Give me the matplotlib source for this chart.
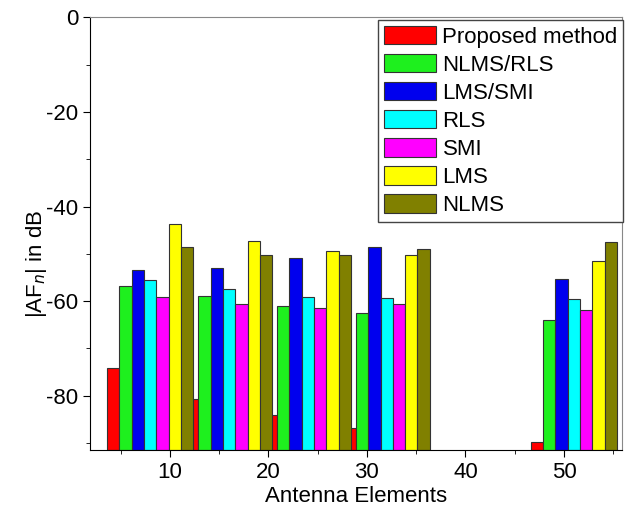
import numpy as np
import matplotlib
matplotlib.use("Agg")
import matplotlib.pyplot as plt
from matplotlib.ticker import MultipleLocator

plt.rcParams['font.family'] = ['Liberation Sans', 'DejaVu Sans']
plt.rcParams['axes.unicode_minus'] = False

# data
elements = [8, 16, 24, 32, 51]
methods = ['Proposed method', 'NLMS/RLS', 'LMS/SMI', 'RLS', 'SMI', 'LMS', 'NLMS']
proposed = [-74.2, -80.8, -84.0, -86.8, -89.8]
nlms_rls = [-56.9, -59.0, -61.0, -62.5, -64.0]
lms_smi = [-53.4, -53.0, -50.9, -48.6, -55.3]
rls = [-55.5, -57.5, -59.2, -59.4, -59.6]
smi = [-59.2, -60.6, -61.5, -60.6, -61.8]
lms = [-43.7, -47.2, -49.5, -50.2, -51.6]
nlms = [-48.5, -50.2, -50.2, -49.0, -47.6]
colors = ['#ff0000', '#1ef01e', '#0000ee', '#00ffff', '#ff00ff', '#ffff00', '#808000']

series = [proposed, nlms_rls, lms_smi, rls, smi, lms, nlms]
ybase = -91.5
width = 1.25

fig = plt.figure(figsize=(6.25, 5.11), dpi=100)
ax = fig.add_axes([0.144, 0.1194, 0.8507, 0.8464])

x = np.array(elements, dtype=float)
for i, (vals, c, lab) in enumerate(zip(series, colors, methods)):
    pos = x + (i - 3) * width
    h = np.array(vals) - ybase
    ax.bar(pos, h, width, bottom=ybase, color=c, edgecolor='#333333',
           linewidth=0.8, label=lab)

ax.set_xlim(1.88, 55.86)
ax.set_ylim(ybase, 0)
ax.xaxis.set_major_locator(MultipleLocator(10))
ax.xaxis.set_minor_locator(MultipleLocator(5))
ax.yaxis.set_major_locator(MultipleLocator(20))
ax.yaxis.set_minor_locator(MultipleLocator(10))
ax.tick_params(which='both', direction='out', top=False, right=False, labelsize=16)
ax.tick_params(which='major', length=5)
ax.tick_params(which='minor', length=3)
for s in ['top', 'right']:
    ax.spines[s].set_color('#888888')

ax.set_xlabel('Antenna Elements', fontsize=16, labelpad=2)
ax.set_ylabel('|AF$_n$| in dB', fontsize=16)
ax.yaxis.set_label_coords(-0.077, 0.43)

leg = ax.legend(loc='upper right', bbox_to_anchor=(1.003, 0.994), fontsize=16,
                frameon=True, fancybox=False, framealpha=1, edgecolor='#444444',
                handlelength=2.35, handleheight=0.9, labelspacing=0.28,
                handletextpad=0.3, borderpad=0.25, borderaxespad=0)

fig.savefig('out.png', dpi=100)
